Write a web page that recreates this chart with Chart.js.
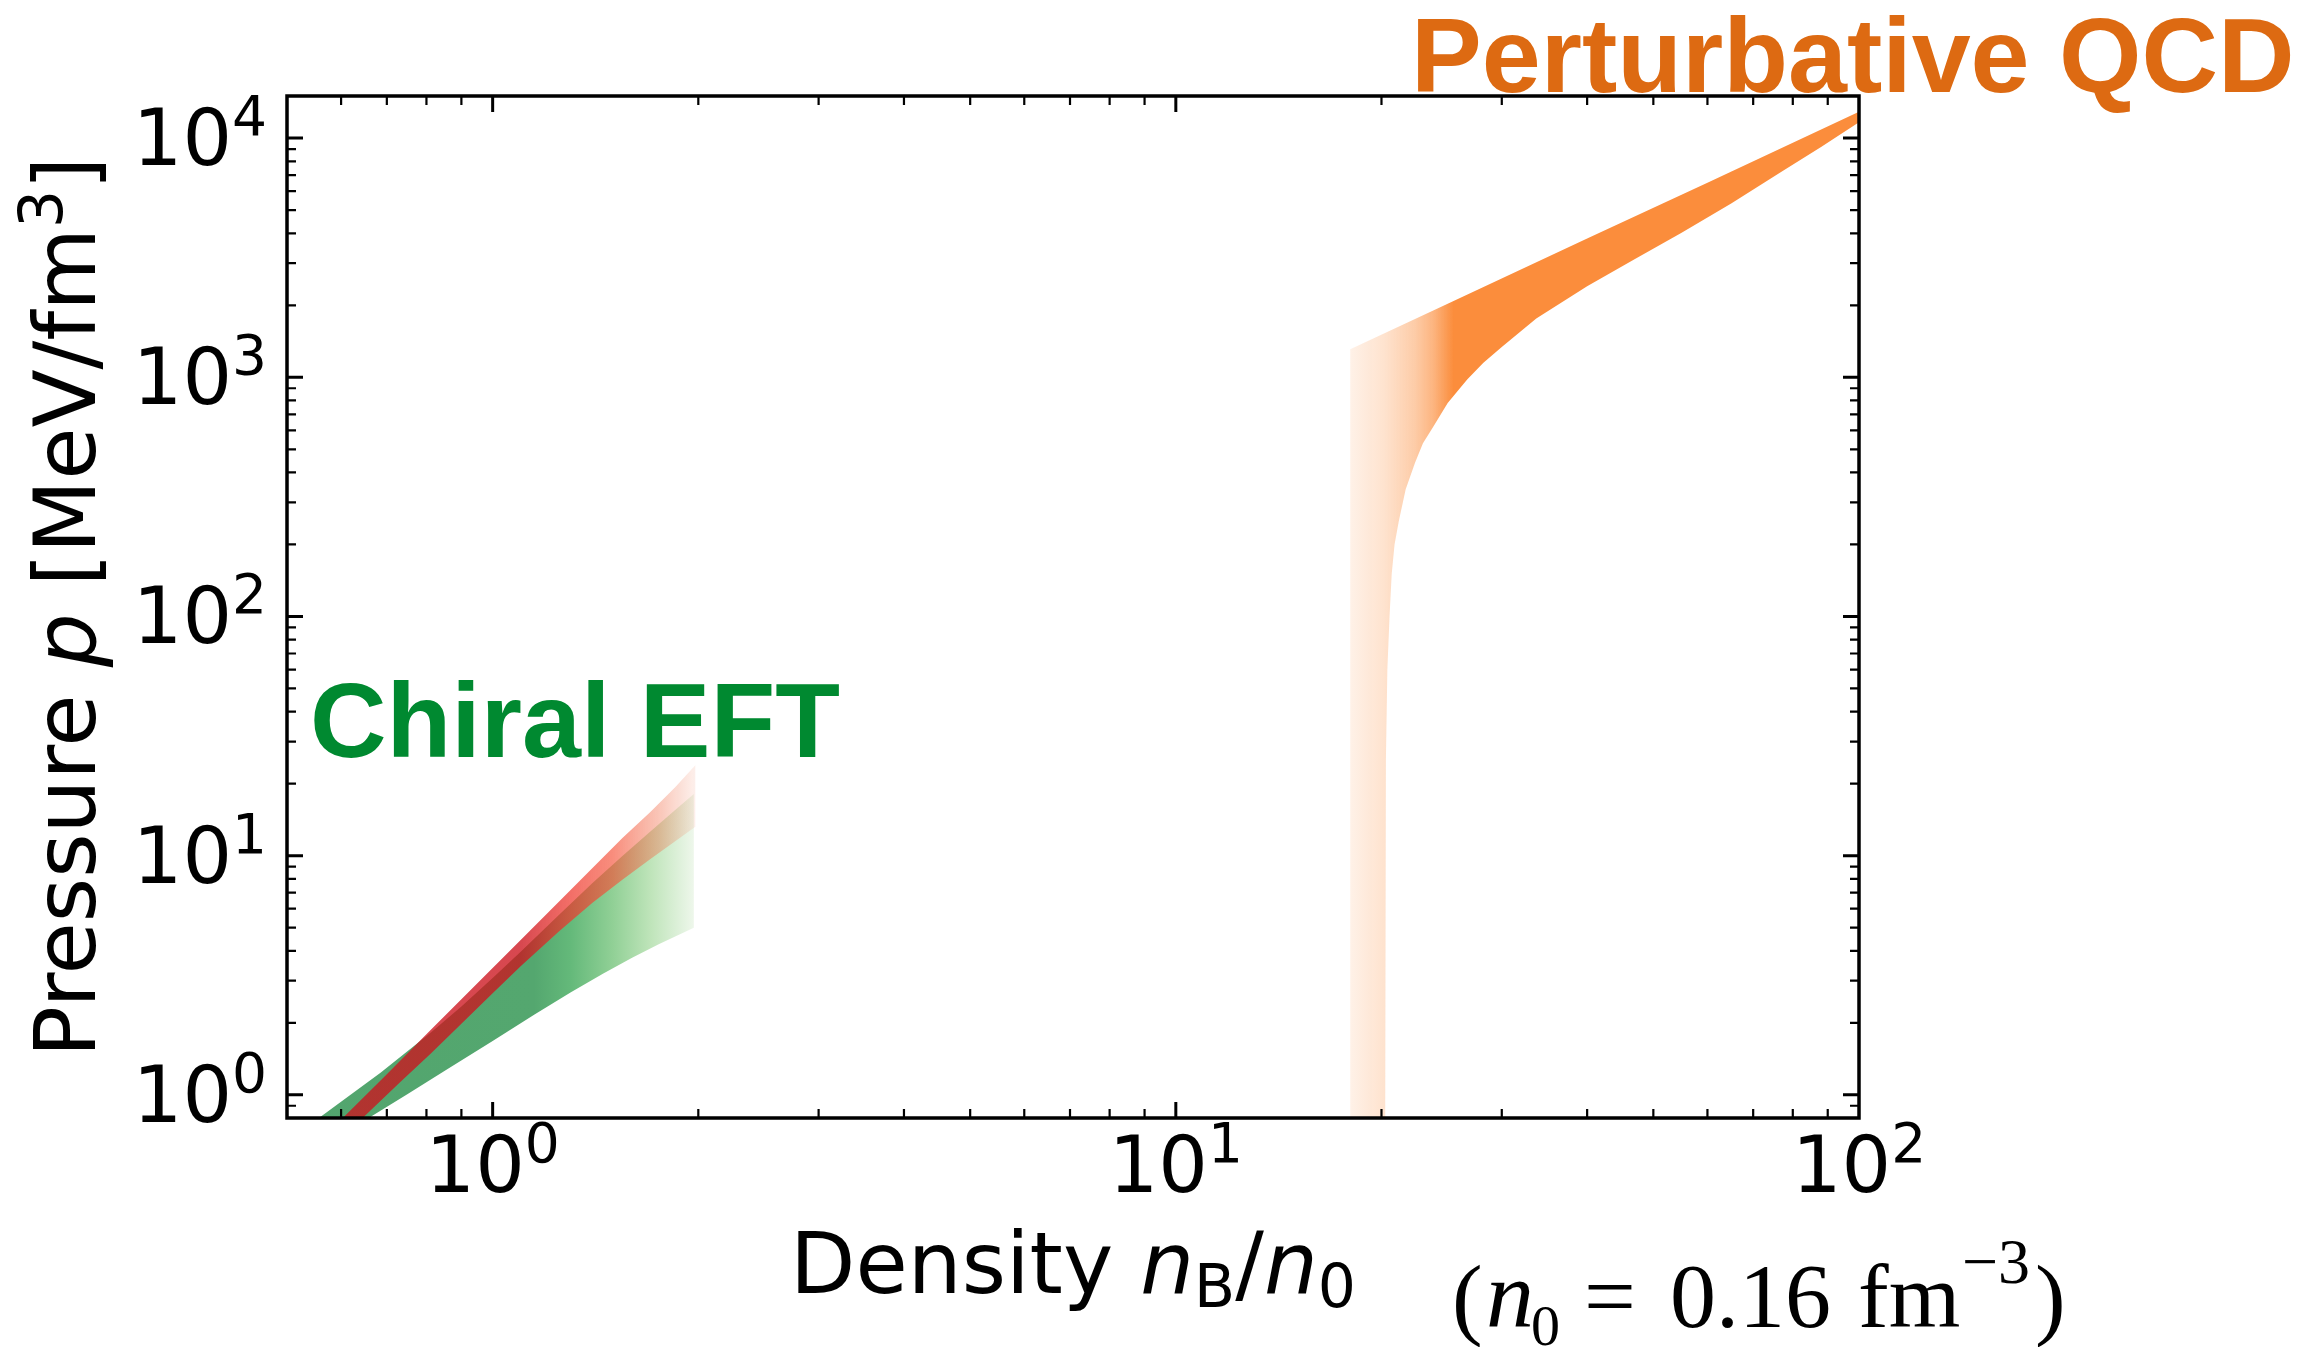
<!DOCTYPE html>
<html lang="en">
<head>
<meta charset="UTF-8">
<title>Pressure vs density</title>
<script src="https://cdn.jsdelivr.net/npm/chart.js"></script>
<style>
  body { margin: 0; background: #fff; }
  #wrap { width: 2312px; height: 1347px; }
</style>
</head>
<body>
<div id="wrap"><canvas id="eosChart" width="2312" height="1347"></canvas></div>

<script>
// ---- data: density n_B/n_0 and pressure p [MeV/fm^3] along the band edges ----

// Chiral EFT, wide band (green)
const eftUpperN = [0.52, 0.56, 0.686, 0.812, 0.9, 1.0, 1.1, 1.25, 1.4, 1.55, 1.7, 1.85, 1.97];
const eftUpperP = [0.69, 0.81, 1.24, 1.82, 2.34, 3.08, 3.97, 5.65, 7.68, 10.0, 12.6, 15.5, 18.1];
const eftLowerN = [0.62, 0.663, 0.75, 0.858, 1.0, 1.15, 1.3, 1.45, 1.6, 1.75, 1.97];
const eftLowerP = [0.72, 0.81, 1.005, 1.28, 1.68, 2.16, 2.68, 3.21, 3.74, 4.26, 5.0];

// Chiral EFT, narrow band (red)
const eftRedUpperN = [0.58, 0.606, 0.7, 0.812, 0.9, 1.0, 1.1, 1.25, 1.4, 1.55, 1.7, 1.85, 1.98];
const eftRedUpperP = [0.714, 0.81, 1.22, 1.87, 2.51, 3.39, 4.45, 6.42, 8.88, 11.87, 15.2, 19.3, 23.9];
const eftRedLowerN = [0.62, 0.648, 0.73, 0.812, 0.9, 1.0, 1.1, 1.25, 1.4, 1.55, 1.7, 1.85, 1.98];
const eftRedLowerP = [0.72, 0.81, 1.12, 1.49, 1.98, 2.66, 3.46, 4.82, 6.35, 7.95, 9.65, 11.5, 13.2];

// Perturbative QCD band (orange)
const pqcdUpperN = [18.0, 25, 40, 60, 100];
const pqcdUpperP = [1310, 2030, 3800, 6500, 12900];
const pqcdLowerN = [18.0, 20.25, 20.3, 20.4, 20.55, 20.7, 20.9, 21.2, 21.7, 22.4, 23.0, 23.8, 25.0, 26.7, 28.2, 30, 33.7, 40, 47, 55, 65, 77, 88, 100];
const pqcdLowerP = [0.7, 0.7, 25, 60, 100, 150, 200, 250, 340, 440, 530, 620, 780, 980, 1150, 1340, 1760, 2400, 3120, 4020, 5330, 7230, 9190, 11650];

// axis ticks (labels are 10^k)
const xMajorTicks = [1, 10, 100];
const yMajorTicks = [1, 10, 100, 1000, 10000];
const minorSteps = [2, 3, 4, 5, 6, 7, 8, 9];

// ---- styles ----
const greenStops = [
  [0.5, 'rgb(82,165,110)'], [1.15, 'rgb(84,167,111)'], [1.3, 'rgb(100,185,122)'],
  [1.5, 'rgb(145,208,150)'], [1.7, 'rgb(190,228,185)'], [1.97, 'rgb(238,247,235)']
];
const redStops = [
  [0.5, 'rgba(204,20,30,0.78)'], [1.1, 'rgba(204,20,30,0.78)'], [1.3, 'rgba(238,55,45,0.72)'],
  [1.5, 'rgba(245,80,55,0.65)'], [1.75, 'rgba(242,110,75,0.4)'], [1.98, 'rgba(240,130,95,0.12)']
];
const orangeStops = [
  [18, 'rgba(251,141,60,0.12)'], [20.2, 'rgba(251,141,60,0.25)'], [22.4, 'rgba(251,141,60,0.45)'],
  [23.8, 'rgba(251,141,60,0.65)'], [25.5, 'rgba(251,141,60,1)'], [100, 'rgba(251,141,60,1)']
];

const SANS = '"DejaVu Sans"';
const SERIF = '"Liberation Serif"';

// closed outline: upper edge left to right, lower edge back
function band(upperN, upperP, lowerN, lowerP) {
  const pts = upperN.map((n, i) => ({ x: n, y: upperP[i] }));
  for (let i = lowerN.length - 1; i >= 0; i--) pts.push({ x: lowerN[i], y: lowerP[i] });
  return pts;
}

// horizontal colour gradient placed by density value
function xGradient(chart, stops) {
  const { ctx, chartArea, scales } = chart;
  if (!chartArea) return 'rgba(0,0,0,0)';
  const xs = scales.x;
  const x0 = xs.getPixelForValue(stops[0][0]);
  const x1 = xs.getPixelForValue(stops[stops.length - 1][0]);
  const g = ctx.createLinearGradient(x0, 0, x1, 0);
  for (const [v, c] of stops) {
    g.addColorStop((xs.getPixelForValue(v) - x0) / (x1 - x0), c);
  }
  return g;
}

function drawRuns(ctx, runs, x, y, align) {
  let total = 0;
  for (const r of runs) {
    ctx.font = r.font;
    r.w = ctx.measureText(r.text).width;
    total += r.w;
  }
  let cx = align === 'center' ? x - total / 2 : x;
  for (const r of runs) {
    ctx.font = r.font;
    ctx.fillText(r.text, cx, y + (r.dy || 0));
    cx += r.w;
  }
}

function powerLabel(ctx, exp, xPos, baseY, align) {
  ctx.font = '78px ' + SANS;
  const wb = ctx.measureText('10').width;
  ctx.font = '55px ' + SANS;
  const we = ctx.measureText(exp).width;
  const left = align === 'right' ? xPos - wb - we : xPos - (wb + we) / 2;
  ctx.font = '78px ' + SANS;
  ctx.fillText('10', left, baseY);
  ctx.font = '55px ' + SANS;
  ctx.fillText(exp, left + wb, baseY - 30);
}

// frame, inward ticks, tick labels, axis titles and band labels
const axisDecor = {
  id: 'axisDecor',
  afterDraw(chart) {
    const { ctx, chartArea: a, scales: { x, y } } = chart;
    ctx.save();
    ctx.strokeStyle = '#000';
    ctx.fillStyle = '#000';
    ctx.lineCap = 'butt';

    const xMinor = [], yMinor = [];
    for (const d of [0.1, 1, 10]) minorSteps.forEach(m => xMinor.push(m * d));
    for (const d of [0.1, 1, 10, 100, 1000]) minorSteps.forEach(m => yMinor.push(m * d));

    const tickSet = (vals, len, w) => {
      ctx.lineWidth = w;
      ctx.beginPath();
      for (const v of vals) {
        if (v > x.min && v < x.max) {
          const px = x.getPixelForValue(v);
          ctx.moveTo(px, a.bottom); ctx.lineTo(px, a.bottom - len);
          ctx.moveTo(px, a.top); ctx.lineTo(px, a.top + len);
        }
      }
      ctx.stroke();
    };
    const tickSetY = (vals, len, w) => {
      ctx.lineWidth = w;
      ctx.beginPath();
      for (const v of vals) {
        if (v > y.min && v < y.max) {
          const py = y.getPixelForValue(v);
          ctx.moveTo(a.left, py); ctx.lineTo(a.left + len, py);
          ctx.moveTo(a.right, py); ctx.lineTo(a.right - len, py);
        }
      }
      ctx.stroke();
    };
    tickSet(xMinor, 9, 2.2);
    tickSet(xMajorTicks, 16, 3);
    tickSetY(yMinor, 9, 2.2);
    tickSetY(yMajorTicks, 16, 3);

    ctx.lineWidth = 3.5;
    ctx.strokeRect(a.left, a.top, a.right - a.left, a.bottom - a.top);

    // tick labels
    ctx.textAlign = 'left';
    ctx.textBaseline = 'alphabetic';
    for (const v of xMajorTicks) {
      powerLabel(ctx, String(Math.round(Math.log10(v))), x.getPixelForValue(v), a.bottom + 74, 'center');
    }
    for (const v of yMajorTicks) {
      powerLabel(ctx, String(Math.round(Math.log10(v))), a.left - 20, y.getPixelForValue(v) + 27, 'right');
    }

    // x title
    const big = '85px ' + SANS, bigIt = 'italic 85px ' + SANS, sub = '60px ' + SANS;
    drawRuns(ctx, [
      { text: 'Density ', font: big },
      { text: 'n', font: bigIt },
      { text: 'B', font: sub, dy: 14 },
      { text: '/', font: big },
      { text: 'n', font: bigIt },
      { text: '0', font: sub, dy: 14 }
    ], (a.left + a.right) / 2, 1293, 'center');

    // y title
    ctx.save();
    ctx.translate(95, (a.top + a.bottom) / 2);
    ctx.rotate(-Math.PI / 2);
    drawRuns(ctx, [
      { text: 'Pressure ', font: big },
      { text: 'p', font: bigIt },
      { text: ' [MeV/fm', font: big },
      { text: '3', font: sub, dy: -33 },
      { text: ']', font: big }
    ], 0, 0, 'center');
    ctx.restore();

    // saturation density note
    const serif = '92px ' + SERIF;
    ctx.font = serif; ctx.fillText('(', 1452, 1328);
    ctx.font = 'italic 96px ' + SERIF; ctx.fillText('n', 1486, 1327);
    ctx.font = '58px ' + SERIF; ctx.fillText('0', 1531, 1345);
    ctx.font = serif; ctx.fillText('=', 1584, 1327);
    ctx.fillText('0.16', 1670, 1327);
    ctx.fillText('fm', 1858, 1327);
    ctx.font = '64px ' + SERIF; ctx.fillText('\u22123', 1962, 1283);
    ctx.font = serif; ctx.fillText(')', 2035, 1328);

    // band labels
    ctx.font = 'bold 106px "Liberation Sans"';
    ctx.fillStyle = 'rgb(0,137,48)';
    ctx.fillText('Chiral EFT', 310, 757);
    ctx.fillStyle = 'rgb(221,106,18)';
    ctx.fillText('Perturbative QCD', 1411, 92);
    ctx.restore();
  }
};

const ctx = document.getElementById('eosChart').getContext('2d');

new Chart(ctx, {
  type: 'line',
  data: {
    datasets: [
      {
        label: 'Chiral EFT (narrow)',
        data: band(eftRedUpperN, eftRedUpperP, eftRedLowerN, eftRedLowerP),
        backgroundColor: (c) => xGradient(c.chart, redStops),
        fill: 'shape',
        order: 0
      },
      {
        label: 'Chiral EFT',
        data: band(eftUpperN, eftUpperP, eftLowerN, eftLowerP),
        backgroundColor: (c) => xGradient(c.chart, greenStops),
        fill: 'shape',
        order: 1
      },
      {
        label: 'Perturbative QCD',
        data: band(pqcdUpperN, pqcdUpperP, pqcdLowerN, pqcdLowerP),
        backgroundColor: (c) => xGradient(c.chart, orangeStops),
        fill: 'shape',
        order: 2
      }
    ]
  },
  options: {
    responsive: false,
    devicePixelRatio: 1,
    animation: false,
    layout: { padding: { left: 287, top: 96, right: 453, bottom: 229 } },
    elements: {
      line: { borderWidth: 0, tension: 0 },
      point: { radius: 0, hoverRadius: 0 }
    },
    scales: {
      x: { type: 'logarithmic', min: 0.5, max: 100, display: false },
      y: { type: 'logarithmic', min: 0.8, max: 15000, display: false }
    },
    plugins: {
      legend: { display: false },
      tooltip: { enabled: false }
    }
  },
  plugins: [axisDecor]
});
</script>
</body>
</html>
